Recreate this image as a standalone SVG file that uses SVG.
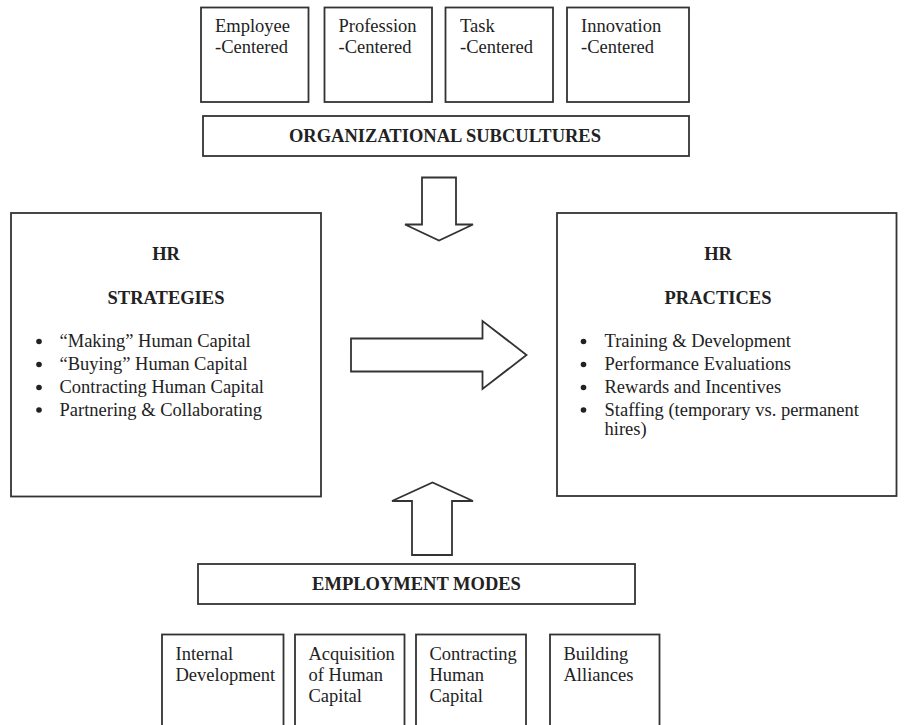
<svg xmlns="http://www.w3.org/2000/svg" width="904" height="725" viewBox="0 0 904 725">
<style>
.box{fill:#fff;stroke:#333;stroke-width:1.8}
.arr{fill:#fff;stroke:#333;stroke-width:1.8;stroke-linejoin:miter}
text{font-family:"Liberation Serif","Times New Roman",serif;font-size:18.5px;fill:#222}
.b{font-weight:bold}
.c{text-anchor:middle}
.dot{fill:#222}
</style>
<rect width="904" height="725" fill="#fff"/>
<g id="connectors">
<polygon class="arr" points="422,177.5 456,177.5 456,224.5 473,224.5 439,240.5 405,224.5 422,224.5"/>
<polygon class="arr" points="351,338.5 482.5,338.5 482.5,321 526.5,355 482.5,389 482.5,371.5 351,371.5"/>
<polygon class="arr" points="412,555 452,555 452,501 473,501 432.5,482.5 392,501 412,501"/>
</g>
<g id="n-employee"><rect class="box" x="201" y="7.5" width="107.5" height="94.5"/><text x="215" y="32">Employee</text><text x="215" y="53">-Centered</text></g>
<g id="n-profession"><rect class="box" x="324.5" y="7.5" width="107.5" height="94.5"/><text x="338.5" y="32">Profession</text><text x="338.5" y="53">-Centered</text></g>
<g id="n-task"><rect class="box" x="445.5" y="7.5" width="107.5" height="94.5"/><text x="460" y="32">Task</text><text x="460" y="53">-Centered</text></g>
<g id="n-innovation"><rect class="box" x="567" y="7.5" width="122" height="94.5"/><text x="581" y="32">Innovation</text><text x="581" y="53">-Centered</text></g>
<g id="n-subcultures"><rect class="box" x="203" y="116" width="486" height="40"/><text class="b c" x="445" y="142">ORGANIZATIONAL SUBCULTURES</text></g>
<g id="n-strategies"><rect class="box" x="11" y="213" width="310" height="283.5"/>
<text class="b c" x="166" y="260">HR</text>
<text class="b c" x="166" y="303.5">STRATEGIES</text>
<circle class="dot" cx="39" cy="341.5" r="2.8"/><text x="59.5" y="347">“Making” Human Capital</text>
<circle class="dot" cx="39" cy="364.5" r="2.8"/><text x="59.5" y="370">“Buying” Human Capital</text>
<circle class="dot" cx="39" cy="387.5" r="2.8"/><text x="59.5" y="393">Contracting Human Capital</text>
<circle class="dot" cx="39" cy="410" r="2.8"/><text x="59.5" y="415.5">Partnering &amp; Collaborating</text>
</g>
<g id="n-practices"><rect class="box" x="557" y="213" width="339.5" height="283"/>
<text class="b c" x="718" y="260">HR</text>
<text class="b c" x="718" y="303.5">PRACTICES</text>
<circle class="dot" cx="583.5" cy="341.5" r="2.8"/><text x="604.5" y="347">Training &amp; Development</text>
<circle class="dot" cx="583.5" cy="364.5" r="2.8"/><text x="604.5" y="370">Performance Evaluations</text>
<circle class="dot" cx="583.5" cy="387.5" r="2.8"/><text x="604.5" y="393">Rewards and Incentives</text>
<circle class="dot" cx="583.5" cy="410" r="2.8"/><text x="604.5" y="415.5">Staffing (temporary vs. permanent</text>
<text x="604.5" y="435">hires)</text>
</g>
<g id="n-modes"><rect class="box" x="198" y="564" width="437" height="40"/><text class="b c" x="416.5" y="589.5">EMPLOYMENT MODES</text></g>
<g id="n-internal"><rect class="box" x="162" y="634.5" width="121.5" height="110"/><text x="175.5" y="660">Internal</text><text x="175.5" y="681">Development</text></g>
<g id="n-acquisition"><rect class="box" x="295" y="634.5" width="109.5" height="110"/><text x="308.5" y="660">Acquisition</text><text x="308.5" y="681">of Human</text><text x="308.5" y="702">Capital</text></g>
<g id="n-contracting"><rect class="box" x="416" y="634.5" width="110" height="110"/><text x="429.5" y="660">Contracting</text><text x="429.5" y="681">Human</text><text x="429.5" y="702">Capital</text></g>
<g id="n-alliances"><rect class="box" x="550" y="634.5" width="109.5" height="110"/><text x="563.5" y="660">Building</text><text x="563.5" y="681">Alliances</text></g>
</svg>
